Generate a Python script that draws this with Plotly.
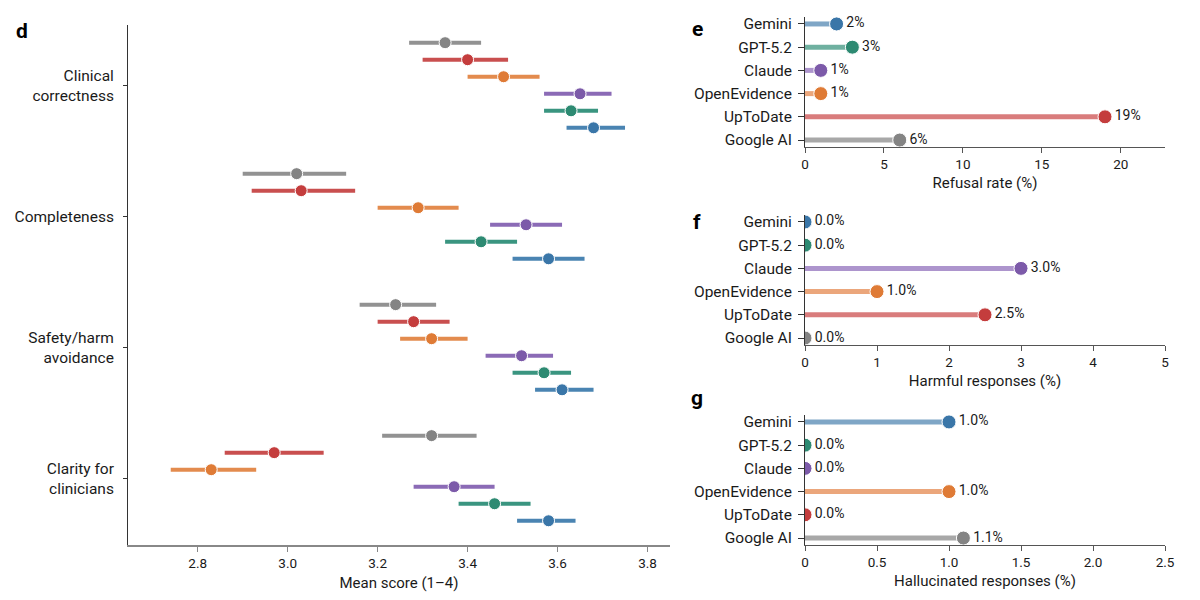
import plotly.graph_objects as go

# panel d: mean score with 95% CI, per criterion and model
criteria = ["Clinical<br>correctness", "Completeness", "Safety/harm<br>avoidance", "Clarity for<br>clinicians"]
models_d = ["Google AI", "UpToDate", "OpenEvidence", "Claude", "GPT-5.2", "Gemini"]
mean_d = {
    "Google AI":    [3.35, 3.02, 3.24, 3.32],
    "UpToDate":     [3.40, 3.03, 3.28, 2.97],
    "OpenEvidence": [3.48, 3.29, 3.32, 2.83],
    "Claude":       [3.65, 3.53, 3.52, 3.37],
    "GPT-5.2":      [3.63, 3.43, 3.57, 3.46],
    "Gemini":       [3.68, 3.58, 3.61, 3.58],
}
lo_d = {
    "Google AI":    [3.27, 2.90, 3.16, 3.21],
    "UpToDate":     [3.30, 2.92, 3.20, 2.86],
    "OpenEvidence": [3.40, 3.20, 3.25, 2.74],
    "Claude":       [3.57, 3.45, 3.44, 3.28],
    "GPT-5.2":      [3.57, 3.35, 3.50, 3.38],
    "Gemini":       [3.62, 3.50, 3.55, 3.51],
}
hi_d = {
    "Google AI":    [3.43, 3.13, 3.33, 3.42],
    "UpToDate":     [3.49, 3.15, 3.36, 3.08],
    "OpenEvidence": [3.56, 3.38, 3.40, 2.93],
    "Claude":       [3.72, 3.61, 3.59, 3.46],
    "GPT-5.2":      [3.69, 3.51, 3.63, 3.54],
    "Gemini":       [3.75, 3.66, 3.68, 3.64],
}

# panels e-g: lollipops
models = ["Gemini", "GPT-5.2", "Claude", "OpenEvidence", "UpToDate", "Google AI"]
refusal = [2, 3, 1, 1, 19, 6]
harmful = [0.0, 0.0, 3.0, 1.0, 2.5, 0.0]
halluc = [1.0, 0.0, 0.0, 1.0, 0.0, 1.1]

dot_col = {"Gemini": "#3a76a8", "GPT-5.2": "#2d8a72", "Claude": "#7c5aa9",
           "OpenEvidence": "#df7b36", "UpToDate": "#c43d3d", "Google AI": "#848484"}
line_col = {"Gemini": "#7fa6c6", "GPT-5.2": "#6fb0a0", "Claude": "#ad95cd",
            "OpenEvidence": "#eba67b", "UpToDate": "#d97c7c", "Google AI": "#a8a8a8"}
ci_col = {"Gemini": "#4a84b2", "GPT-5.2": "#3a9580", "Claude": "#8b6bb6",
          "OpenEvidence": "#e38b4e", "UpToDate": "#c94f4f", "Google AI": "#929292"}

FONT = "Roboto"
W, H = 1200, 600
PAD = 8  # page body margin the figure sits in


def px(x):
    return (x - PAD) / W


def py(y):
    return 1 - (y - PAD) / H


fig = go.Figure()

# ---- panel d
step = 0.13
for k, m in enumerate(models_d):
    off = (k - 2.5) * step
    ys = [i + off for i in range(len(criteria))]
    mu = mean_d[m]
    fig.add_trace(go.Scatter(
        x=mu, y=ys, mode="markers", xaxis="x", yaxis="y",
        marker=dict(size=12, color=dot_col[m], line=dict(color="white", width=1)),
        error_x=dict(type="data", symmetric=False,
                     array=[h - v for h, v in zip(hi_d[m], mu)],
                     arrayminus=[v - l for v, l in zip(mu, lo_d[m])],
                     color=ci_col[m], thickness=4, width=0),
        showlegend=False, hoverinfo="skip"))

# ---- panels e, f, g
panels = [(refusal, "2", ["{:.0f}%".format(v) for v in refusal]),
          (harmful, "3", ["{:.1f}%".format(v) for v in harmful]),
          (halluc, "4", ["{:.1f}%".format(v) for v in halluc])]
rows = list(range(len(models)))
for vals, ax, labels in panels:
    for i, m in enumerate(models):
        fig.add_trace(go.Scatter(
            x=[0, vals[i]], y=[i, i], mode="lines", xaxis="x" + ax, yaxis="y" + ax,
            line=dict(color=line_col[m], width=5), showlegend=False, hoverinfo="skip"))
    # dots clipped at the axis (zero values show as half dots)
    fig.add_trace(go.Scatter(
        x=vals, y=rows, mode="markers", xaxis="x" + ax, yaxis="y" + ax,
        marker=dict(size=14, color=[dot_col[m] for m in models], line=dict(color="white", width=1)),
        showlegend=False, hoverinfo="skip"))
    # labels, not clipped
    fig.add_trace(go.Scatter(
        x=vals, y=rows, mode="markers+text", xaxis="x" + ax, yaxis="y" + ax, cliponaxis=False,
        text=labels, textposition="middle right",
        textfont=dict(size=14, color="#1a1a1a", family=FONT),
        marker=dict(size=14, color="rgba(0,0,0,0)"),
        showlegend=False, hoverinfo="skip"))

axis_common = dict(showgrid=False, zeroline=False, showline=True, ticks="outside", automargin=False,
                   tickfont=dict(size=13.5, color="#1a1a1a", family=FONT))

fig.update_layout(
    width=W, height=H, plot_bgcolor="white", paper_bgcolor="white",
    margin=dict(l=0, r=0, t=0, b=0), font=dict(family=FONT, color="#1a1a1a"),
    xaxis=dict(axis_common, domain=[px(128), px(670)], range=[2.645, 3.85],
               tickvals=[2.8, 3.0, 3.2, 3.4, 3.6, 3.8], ticktext=["2.8", "3.0", "3.2", "3.4", "3.6", "3.8"],
               linecolor="#888", linewidth=1.5, tickcolor="#888", ticklen=5,
               anchor="y", title=dict(text="Mean score (1–4)", font=dict(size=15), standoff=8)),
    yaxis=dict(axis_common, domain=[py(545), py(25)], range=[3.51, -0.46],
               tickvals=list(range(len(criteria))), ticktext=criteria,
               linecolor="#333", linewidth=1, tickcolor="#333", ticklen=4, ticklabelstandoff=6,
               tickfont=dict(size=15.5, color="#1a1a1a", family=FONT), anchor="x"),
)

right = [("2", 17, 147, [0, 22.8], [0, 5, 10, 15, 20], ["0", "5", "10", "15", "20"], "Refusal rate (%)"),
         ("3", 215, 345, [0, 5], [0, 1, 2, 3, 4, 5], ["0", "1", "2", "3", "4", "5"], "Harmful responses (%)"),
         ("4", 415, 545, [0, 2.5], [0, 0.5, 1.0, 1.5, 2.0, 2.5], ["0", "0.5", "1.0", "1.5", "2.0", "2.5"],
          "Hallucinated responses (%)")]
for ax, top, bot, xr, tv, tt, title in right:
    fig.update_layout(**{
        "xaxis" + ax: dict(axis_common, domain=[px(805), px(1165)], range=xr, tickvals=tv, ticktext=tt,
                           linecolor="#555", linewidth=1.2, tickcolor="#555", ticklen=5, anchor="y" + ax,
                           title=dict(text=title, font=dict(size=15), standoff=6)),
        "yaxis" + ax: dict(axis_common, domain=[py(bot), py(top)], range=[5.3, -0.3],
                           tickvals=rows, ticktext=models,
                           linecolor="#333", linewidth=1, tickcolor="#333", ticklen=6, ticklabelstandoff=3,
                           tickfont=dict(size=15.5, color="#1a1a1a", family=FONT), anchor="x" + ax),
    })

for letter, x, y in [("d", 14, 17), ("e", 697, 15), ("f", 697, 208), ("g", 697, 412)]:
    fig.add_annotation(text="<b>" + letter + "</b>", x=px(x), y=py(y), xref="paper", yref="paper",
                       showarrow=False, font=dict(size=21, color="#000", family=FONT))

fig.write_html("out.html")
